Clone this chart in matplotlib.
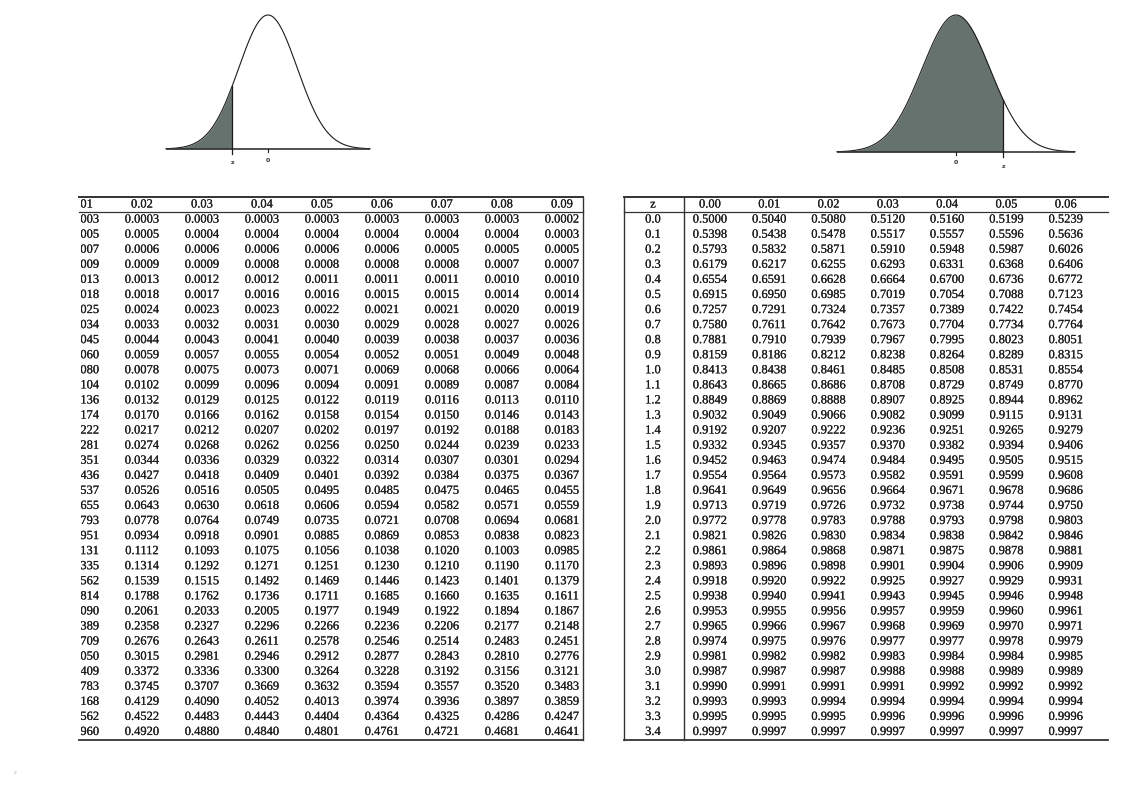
import numpy as np
import matplotlib
matplotlib.use("Agg")
from matplotlib import pyplot as plt
from matplotlib import patheffects as pe

# ---- data read from the scanned page ----
# left table: P(Z <= z) for z = -3.4 ... -0.0, columns 0.01 .. 0.09
# (the page is cut, so only the tail of column 0.01 is visible)
neg_01 = [0.0003, 0.0005, 0.0007, 0.0009, 0.0013, 0.0018, 0.0025, 0.0034, 0.0045, 0.0060, 0.0080, 0.0104,
          0.0136, 0.0174, 0.0222, 0.0281, 0.0351, 0.0436, 0.0537, 0.0655, 0.0793, 0.0951, 0.1131, 0.1335,
          0.1562, 0.1814, 0.2090, 0.2389, 0.2709, 0.3050, 0.3409, 0.3783, 0.4168, 0.4562, 0.4960]
neg_02 = [0.0003, 0.0005, 0.0006, 0.0009, 0.0013, 0.0018, 0.0024, 0.0033, 0.0044, 0.0059, 0.0078, 0.0102,
          0.0132, 0.0170, 0.0217, 0.0274, 0.0344, 0.0427, 0.0526, 0.0643, 0.0778, 0.0934, 0.1112, 0.1314,
          0.1539, 0.1788, 0.2061, 0.2358, 0.2676, 0.3015, 0.3372, 0.3745, 0.4129, 0.4522, 0.4920]
neg_03 = [0.0003, 0.0004, 0.0006, 0.0009, 0.0012, 0.0017, 0.0023, 0.0032, 0.0043, 0.0057, 0.0075, 0.0099,
          0.0129, 0.0166, 0.0212, 0.0268, 0.0336, 0.0418, 0.0516, 0.0630, 0.0764, 0.0918, 0.1093, 0.1292,
          0.1515, 0.1762, 0.2033, 0.2327, 0.2643, 0.2981, 0.3336, 0.3707, 0.4090, 0.4483, 0.4880]
neg_04 = [0.0003, 0.0004, 0.0006, 0.0008, 0.0012, 0.0016, 0.0023, 0.0031, 0.0041, 0.0055, 0.0073, 0.0096,
          0.0125, 0.0162, 0.0207, 0.0262, 0.0329, 0.0409, 0.0505, 0.0618, 0.0749, 0.0901, 0.1075, 0.1271,
          0.1492, 0.1736, 0.2005, 0.2296, 0.2611, 0.2946, 0.3300, 0.3669, 0.4052, 0.4443, 0.4840]
neg_05 = [0.0003, 0.0004, 0.0006, 0.0008, 0.0011, 0.0016, 0.0022, 0.0030, 0.0040, 0.0054, 0.0071, 0.0094,
          0.0122, 0.0158, 0.0202, 0.0256, 0.0322, 0.0401, 0.0495, 0.0606, 0.0735, 0.0885, 0.1056, 0.1251,
          0.1469, 0.1711, 0.1977, 0.2266, 0.2578, 0.2912, 0.3264, 0.3632, 0.4013, 0.4404, 0.4801]
neg_06 = [0.0003, 0.0004, 0.0006, 0.0008, 0.0011, 0.0015, 0.0021, 0.0029, 0.0039, 0.0052, 0.0069, 0.0091,
          0.0119, 0.0154, 0.0197, 0.0250, 0.0314, 0.0392, 0.0485, 0.0594, 0.0721, 0.0869, 0.1038, 0.1230,
          0.1446, 0.1685, 0.1949, 0.2236, 0.2546, 0.2877, 0.3228, 0.3594, 0.3974, 0.4364, 0.4761]
neg_07 = [0.0003, 0.0004, 0.0005, 0.0008, 0.0011, 0.0015, 0.0021, 0.0028, 0.0038, 0.0051, 0.0068, 0.0089,
          0.0116, 0.0150, 0.0192, 0.0244, 0.0307, 0.0384, 0.0475, 0.0582, 0.0708, 0.0853, 0.1020, 0.1210,
          0.1423, 0.1660, 0.1922, 0.2206, 0.2514, 0.2843, 0.3192, 0.3557, 0.3936, 0.4325, 0.4721]
neg_08 = [0.0003, 0.0004, 0.0005, 0.0007, 0.0010, 0.0014, 0.0020, 0.0027, 0.0037, 0.0049, 0.0066, 0.0087,
          0.0113, 0.0146, 0.0188, 0.0239, 0.0301, 0.0375, 0.0465, 0.0571, 0.0694, 0.0838, 0.1003, 0.1190,
          0.1401, 0.1635, 0.1894, 0.2177, 0.2483, 0.2810, 0.3156, 0.3520, 0.3897, 0.4286, 0.4681]
neg_09 = [0.0002, 0.0003, 0.0005, 0.0007, 0.0010, 0.0014, 0.0019, 0.0026, 0.0036, 0.0048, 0.0064, 0.0084,
          0.0110, 0.0143, 0.0183, 0.0233, 0.0294, 0.0367, 0.0455, 0.0559, 0.0681, 0.0823, 0.0985, 0.1170,
          0.1379, 0.1611, 0.1867, 0.2148, 0.2451, 0.2776, 0.3121, 0.3483, 0.3859, 0.4247, 0.4641]
neg_headers = ["0.01", "0.02", "0.03", "0.04", "0.05", "0.06", "0.07", "0.08", "0.09"]

# right table: P(Z <= z) for z = 0.0 ... 3.4, columns 0.00 .. 0.06
z_pos = ["0.0", "0.1", "0.2", "0.3", "0.4", "0.5", "0.6", "0.7", "0.8", "0.9", "1.0", "1.1",
         "1.2", "1.3", "1.4", "1.5", "1.6", "1.7", "1.8", "1.9", "2.0", "2.1", "2.2", "2.3",
         "2.4", "2.5", "2.6", "2.7", "2.8", "2.9", "3.0", "3.1", "3.2", "3.3", "3.4"]
pos_00 = [0.5000, 0.5398, 0.5793, 0.6179, 0.6554, 0.6915, 0.7257, 0.7580, 0.7881, 0.8159, 0.8413, 0.8643,
          0.8849, 0.9032, 0.9192, 0.9332, 0.9452, 0.9554, 0.9641, 0.9713, 0.9772, 0.9821, 0.9861, 0.9893,
          0.9918, 0.9938, 0.9953, 0.9965, 0.9974, 0.9981, 0.9987, 0.9990, 0.9993, 0.9995, 0.9997]
pos_01 = [0.5040, 0.5438, 0.5832, 0.6217, 0.6591, 0.6950, 0.7291, 0.7611, 0.7910, 0.8186, 0.8438, 0.8665,
          0.8869, 0.9049, 0.9207, 0.9345, 0.9463, 0.9564, 0.9649, 0.9719, 0.9778, 0.9826, 0.9864, 0.9896,
          0.9920, 0.9940, 0.9955, 0.9966, 0.9975, 0.9982, 0.9987, 0.9991, 0.9993, 0.9995, 0.9997]
pos_02 = [0.5080, 0.5478, 0.5871, 0.6255, 0.6628, 0.6985, 0.7324, 0.7642, 0.7939, 0.8212, 0.8461, 0.8686,
          0.8888, 0.9066, 0.9222, 0.9357, 0.9474, 0.9573, 0.9656, 0.9726, 0.9783, 0.9830, 0.9868, 0.9898,
          0.9922, 0.9941, 0.9956, 0.9967, 0.9976, 0.9982, 0.9987, 0.9991, 0.9994, 0.9995, 0.9997]
pos_03 = [0.5120, 0.5517, 0.5910, 0.6293, 0.6664, 0.7019, 0.7357, 0.7673, 0.7967, 0.8238, 0.8485, 0.8708,
          0.8907, 0.9082, 0.9236, 0.9370, 0.9484, 0.9582, 0.9664, 0.9732, 0.9788, 0.9834, 0.9871, 0.9901,
          0.9925, 0.9943, 0.9957, 0.9968, 0.9977, 0.9983, 0.9988, 0.9991, 0.9994, 0.9996, 0.9997]
pos_04 = [0.5160, 0.5557, 0.5948, 0.6331, 0.6700, 0.7054, 0.7389, 0.7704, 0.7995, 0.8264, 0.8508, 0.8729,
          0.8925, 0.9099, 0.9251, 0.9382, 0.9495, 0.9591, 0.9671, 0.9738, 0.9793, 0.9838, 0.9875, 0.9904,
          0.9927, 0.9945, 0.9959, 0.9969, 0.9977, 0.9984, 0.9988, 0.9992, 0.9994, 0.9996, 0.9997]
pos_05 = [0.5199, 0.5596, 0.5987, 0.6368, 0.6736, 0.7088, 0.7422, 0.7734, 0.8023, 0.8289, 0.8531, 0.8749,
          0.8944, 0.9115, 0.9265, 0.9394, 0.9505, 0.9599, 0.9678, 0.9744, 0.9798, 0.9842, 0.9878, 0.9906,
          0.9929, 0.9946, 0.9960, 0.9970, 0.9978, 0.9984, 0.9989, 0.9992, 0.9994, 0.9996, 0.9997]
pos_06 = [0.5239, 0.5636, 0.6026, 0.6406, 0.6772, 0.7123, 0.7454, 0.7764, 0.8051, 0.8315, 0.8554, 0.8770,
          0.8962, 0.9131, 0.9279, 0.9406, 0.9515, 0.9608, 0.9686, 0.9750, 0.9803, 0.9846, 0.9881, 0.9909,
          0.9931, 0.9948, 0.9961, 0.9971, 0.9979, 0.9985, 0.9989, 0.9992, 0.9994, 0.9996, 0.9997]
pos_headers = ["0.00", "0.01", "0.02", "0.03", "0.04", "0.05", "0.06"]

# z marked under each curve
z_left = -1.23
z_right = 1.39

W, H = 1122, 794
INK = "#1c1c1c"
SHADE = "#66726e"
SERIF = ["Liberation Serif", "DejaVu Serif"]
FS = 9.0
BOLDEN = [pe.withStroke(linewidth=0.12, foreground=INK)]

fig = plt.figure(figsize=(W / 100, H / 100), dpi=100)
fig.patch.set_facecolor("white")


def px_axes(x0, y0, x1, y1):
    ax = fig.add_axes([x0 / W, 1 - y1 / H, (x1 - x0) / W, (y1 - y0) / H])
    ax.set_axis_off()
    return ax


def bell(x0, x1, y_peak, y_base, y_bottom, z, lab0_dy, labz_dy):
    ax = px_axes(x0, y_peak, x1, y_bottom)
    pdf0 = 1 / np.sqrt(2 * np.pi)
    per_px = pdf0 / (y_base - y_peak)
    ax.set_xlim(-3.5, 3.5)
    ax.set_ylim(-(y_bottom - y_base) * per_px, pdf0)
    xs = np.linspace(-3.5, 3.5, 400)
    ys = np.exp(-xs ** 2 / 2) * pdf0
    yz = np.exp(-z ** 2 / 2) * pdf0
    ax.fill_between(np.append(xs[xs <= z], z), 0, np.append(ys[xs <= z], yz),
                    color=SHADE, lw=0)
    ax.plot(xs, ys, color=INK, lw=0.8, clip_on=False)
    ax.axhline(0, color="#333333", lw=1.2)
    ax.plot([z, z], [-5 * per_px, yz], color=INK, lw=0.9)
    ax.plot([0, 0], [-3 * per_px, 0], color=INK, lw=0.8)
    ax.text(0, -lab0_dy * per_px, "0", ha="center", va="center", fontsize=4.5,
            fontweight="bold", color="#333333")
    ax.text(z, -labz_dy * per_px, "z", ha="center", va="center", fontsize=4.5,
            fontweight="bold", color="#444444")
    return ax


bell(166, 370, 15, 149, 172, z_left, 11, 13)
bell(837, 1075, 15, 152, 175, z_right, 10, 14)


def table_axes(x0, x1, xl0, xl1, line_x0, line_x1):
    ax = px_axes(x0, 197, x1, 739.5)
    ax.set_xlim(xl0, xl1)
    ax.set_ylim(35.5, -0.5)
    # rules may run a little past the clip box of the text
    span = (xl1 - xl0) / (x1 - x0)
    lx = [xl0 + (line_x0 - x0) * span, xl0 + (line_x1 - x0) * span]
    for yy, lw in [(-0.5, 1.4), (0.5, 0.9), (35.5, 1.3)]:
        ax.plot(lx, [yy, yy], color="#333333", lw=lw, clip_on=False)
    return ax


def put(ax, x, y, s):
    ax.text(x, y, s, ha="center", va="center", fontsize=FS, family=SERIF,
            color=INK, clip_on=True, path_effects=BOLDEN)


# left table (cut on the left by the page edge); columns every 60 px, 0.02 at 142
neg_cols = [neg_01, neg_02, neg_03, neg_04, neg_05, neg_06, neg_07, neg_08, neg_09]
axl = table_axes(80.6, 583, 1 + (80.6 - 82) / 60, 1 + (583 - 82) / 60, 79, 583)
axl.axvline(axl.get_xlim()[1], color="#333333", lw=1.0, clip_on=False)
for j, (head, col) in enumerate(zip(neg_headers, neg_cols), start=1):
    put(axl, j, 0, head)
    for i, v in enumerate(col, start=1):
        put(axl, j, i, f"{v:.4f}")

# right table (cut on the right)
pos_cols = [pos_00, pos_01, pos_02, pos_03, pos_04, pos_05, pos_06]
axr = table_axes(624, 1108, (624 - 710) / 59.3, (1108 - 710) / 59.3, 624, 1108)
axr.axvline(axr.get_xlim()[0], color="#333333", lw=1.0, clip_on=False)
axr.axvline((684 - 710) / 59.3, color="#333333", lw=1.0, clip_on=False)
zc = (653 - 710) / 59.3
put(axr, zc, 0, "z")
for i, zl in enumerate(z_pos, start=1):
    put(axr, zc, i, zl)
for j, (head, col) in enumerate(zip(pos_headers, pos_cols)):
    put(axr, j, 0, head)
    for i, v in enumerate(col, start=1):
        put(axr, j, i, f"{v:.4f}")

# faint speck from the scan in the lower-left margin
fig.text(15 / W, 1 - 773 / H, "z", fontsize=4, color="#b5b5b5", ha="center", va="center")

fig.savefig("out.png", dpi=100, facecolor="white")
